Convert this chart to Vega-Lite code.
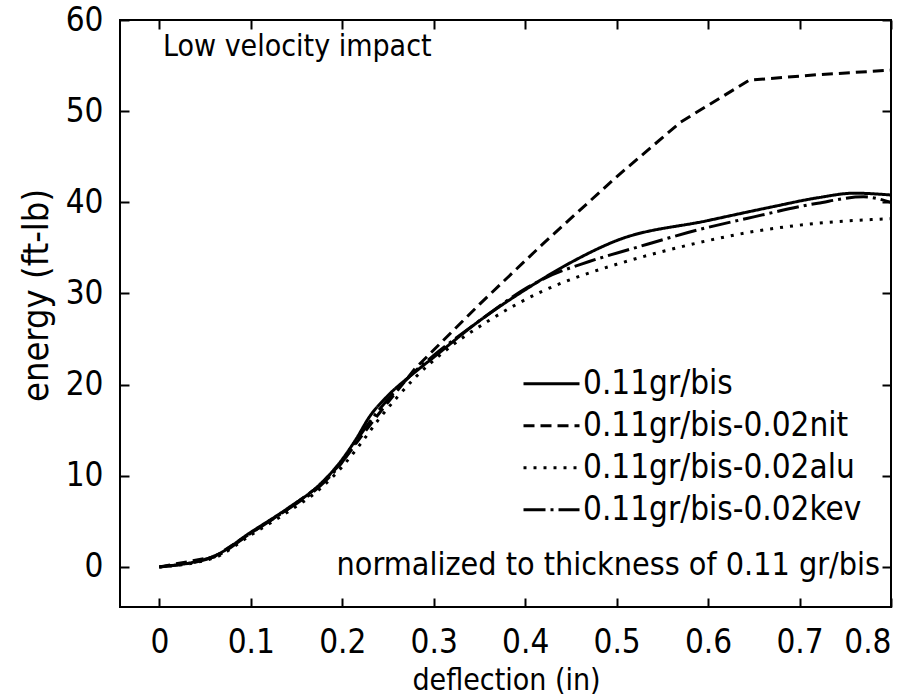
{
  "$schema": "https://vega.github.io/schema/vega-lite/v6.json",
  "autosize": {"type": "none"},
  "padding": {"left": 120, "top": 20, "right": 23, "bottom": 91},
  "width": 771,
  "height": 587,
  "background": "white",
  "config": {
    "font": "DejaVu Sans Condensed",
    "view": {"stroke": "black", "strokeWidth": 2},
    "axis": {
      "domain": false,
      "grid": false,
      "ticks": true,
      "tickSize": -9,
      "tickWidth": 2,
      "tickColor": "black",
      "labelFont": "DejaVu Sans Condensed",
      "labelFontSize": 33,
      "labelColor": "black",
      "titleFont": "DejaVu Sans Condensed",
      "titleFontSize": 30,
      "titleFontWeight": "normal",
      "titleColor": "black"
    },
    "legend": {
      "labelFont": "DejaVu Sans Condensed",
      "labelFontSize": 33,
      "labelColor": "black",
      "labelLimit": 0
    }
  },
  "data": {
    "values": [
      {"series": "0.11gr/bis", "x": 0, "y": 0},
      {"series": "0.11gr/bis", "x": 0.06, "y": 1.2},
      {"series": "0.11gr/bis", "x": 0.1, "y": 3.8},
      {"series": "0.11gr/bis", "x": 0.14, "y": 6.4},
      {"series": "0.11gr/bis", "x": 0.175, "y": 9.0},
      {"series": "0.11gr/bis", "x": 0.2, "y": 11.8},
      {"series": "0.11gr/bis", "x": 0.215, "y": 14.0},
      {"series": "0.11gr/bis", "x": 0.23, "y": 16.5},
      {"series": "0.11gr/bis", "x": 0.25, "y": 18.8},
      {"series": "0.11gr/bis", "x": 0.275, "y": 21.0},
      {"series": "0.11gr/bis", "x": 0.3, "y": 23.0},
      {"series": "0.11gr/bis", "x": 0.35, "y": 27.0},
      {"series": "0.11gr/bis", "x": 0.4, "y": 30.4},
      {"series": "0.11gr/bis", "x": 0.45, "y": 33.4},
      {"series": "0.11gr/bis", "x": 0.5, "y": 35.8},
      {"series": "0.11gr/bis", "x": 0.6, "y": 38.0},
      {"series": "0.11gr/bis", "x": 0.67, "y": 39.5},
      {"series": "0.11gr/bis", "x": 0.72, "y": 40.5},
      {"series": "0.11gr/bis", "x": 0.76, "y": 41.0},
      {"series": "0.11gr/bis", "x": 0.8, "y": 40.8},

      {"series": "0.11gr/bis-0.02nit", "x": 0, "y": 0},
      {"series": "0.11gr/bis-0.02nit", "x": 0.06, "y": 1.1},
      {"series": "0.11gr/bis-0.02nit", "x": 0.1, "y": 3.7},
      {"series": "0.11gr/bis-0.02nit", "x": 0.14, "y": 6.3},
      {"series": "0.11gr/bis-0.02nit", "x": 0.175, "y": 8.9},
      {"series": "0.11gr/bis-0.02nit", "x": 0.2, "y": 11.5},
      {"series": "0.11gr/bis-0.02nit", "x": 0.22, "y": 14.2},
      {"series": "0.11gr/bis-0.02nit", "x": 0.24, "y": 16.8},
      {"series": "0.11gr/bis-0.02nit", "x": 0.26, "y": 19.3},
      {"series": "0.11gr/bis-0.02nit", "x": 0.28, "y": 21.8},
      {"series": "0.11gr/bis-0.02nit", "x": 0.35, "y": 28.8},
      {"series": "0.11gr/bis-0.02nit", "x": 0.42, "y": 35.5},
      {"series": "0.11gr/bis-0.02nit", "x": 0.5, "y": 42.8},
      {"series": "0.11gr/bis-0.02nit", "x": 0.57, "y": 48.8},
      {"series": "0.11gr/bis-0.02nit", "x": 0.645, "y": 53.4},
      {"series": "0.11gr/bis-0.02nit", "x": 0.72, "y": 54.0},
      {"series": "0.11gr/bis-0.02nit", "x": 0.8, "y": 54.5},

      {"series": "0.11gr/bis-0.02alu", "x": 0, "y": 0},
      {"series": "0.11gr/bis-0.02alu", "x": 0.06, "y": 1.0},
      {"series": "0.11gr/bis-0.02alu", "x": 0.1, "y": 3.5},
      {"series": "0.11gr/bis-0.02alu", "x": 0.14, "y": 6.0},
      {"series": "0.11gr/bis-0.02alu", "x": 0.175, "y": 8.5},
      {"series": "0.11gr/bis-0.02alu", "x": 0.2, "y": 11.0},
      {"series": "0.11gr/bis-0.02alu", "x": 0.22, "y": 13.5},
      {"series": "0.11gr/bis-0.02alu", "x": 0.24, "y": 16.2},
      {"series": "0.11gr/bis-0.02alu", "x": 0.26, "y": 18.6},
      {"series": "0.11gr/bis-0.02alu", "x": 0.28, "y": 20.8},
      {"series": "0.11gr/bis-0.02alu", "x": 0.31, "y": 23.5},
      {"series": "0.11gr/bis-0.02alu", "x": 0.36, "y": 27.0},
      {"series": "0.11gr/bis-0.02alu", "x": 0.42, "y": 30.3},
      {"series": "0.11gr/bis-0.02alu", "x": 0.46, "y": 31.9},
      {"series": "0.11gr/bis-0.02alu", "x": 0.5, "y": 33.2},
      {"series": "0.11gr/bis-0.02alu", "x": 0.55, "y": 34.6},
      {"series": "0.11gr/bis-0.02alu", "x": 0.6, "y": 35.8},
      {"series": "0.11gr/bis-0.02alu", "x": 0.65, "y": 36.8},
      {"series": "0.11gr/bis-0.02alu", "x": 0.72, "y": 37.7},
      {"series": "0.11gr/bis-0.02alu", "x": 0.8, "y": 38.2},

      {"series": "0.11gr/bis-0.02kev", "x": 0, "y": 0},
      {"series": "0.11gr/bis-0.02kev", "x": 0.06, "y": 1.1},
      {"series": "0.11gr/bis-0.02kev", "x": 0.1, "y": 3.7},
      {"series": "0.11gr/bis-0.02kev", "x": 0.14, "y": 6.3},
      {"series": "0.11gr/bis-0.02kev", "x": 0.175, "y": 8.8},
      {"series": "0.11gr/bis-0.02kev", "x": 0.2, "y": 11.5},
      {"series": "0.11gr/bis-0.02kev", "x": 0.22, "y": 14.5},
      {"series": "0.11gr/bis-0.02kev", "x": 0.24, "y": 17.2},
      {"series": "0.11gr/bis-0.02kev", "x": 0.26, "y": 19.5},
      {"series": "0.11gr/bis-0.02kev", "x": 0.28, "y": 21.5},
      {"series": "0.11gr/bis-0.02kev", "x": 0.3, "y": 23.2},
      {"series": "0.11gr/bis-0.02kev", "x": 0.35, "y": 27.0},
      {"series": "0.11gr/bis-0.02kev", "x": 0.4, "y": 30.5},
      {"series": "0.11gr/bis-0.02kev", "x": 0.42, "y": 31.6},
      {"series": "0.11gr/bis-0.02kev", "x": 0.47, "y": 33.5},
      {"series": "0.11gr/bis-0.02kev", "x": 0.52, "y": 35.0},
      {"series": "0.11gr/bis-0.02kev", "x": 0.59, "y": 37.0},
      {"series": "0.11gr/bis-0.02kev", "x": 0.65, "y": 38.4},
      {"series": "0.11gr/bis-0.02kev", "x": 0.72, "y": 39.9},
      {"series": "0.11gr/bis-0.02kev", "x": 0.77, "y": 40.6},
      {"series": "0.11gr/bis-0.02kev", "x": 0.8, "y": 40.0}
    ]
  },
  "layer": [
    {
      "transform": [{"filter": "datum.series !== '0.11gr/bis-0.02nit'"}],
      "mark": {"type": "line", "interpolate": "monotone", "strokeWidth": 3, "color": "black", "clip": true},
      "encoding": {
        "x": {"field": "x", "type": "quantitative", "scale": {"domain": [-0.043, 0.8], "nice": false, "zero": false},
              "axis": {"orient": "bottom", "values": [0, 0.1, 0.2, 0.3, 0.4, 0.5, 0.6, 0.7, 0.8], "format": ".1~f", "labelPadding": 28, "title": "deflection (in)", "titleX": 386, "titleY": 73, "titleBaseline": "middle"}},
        "y": {"field": "y", "type": "quantitative", "scale": {"domain": [-4.4, 60], "nice": false, "zero": false},
              "axis": {"orient": "left", "values": [0, 10, 20, 30, 40, 50, 60], "format": "d", "labelPadding": 26, "title": "energy (ft-lb)", "titleFontSize": 36, "titleX": -84, "titleY": 275, "titleBaseline": "middle"}},
        "detail": {"field": "series"},
        "strokeDash": {"field": "series", "type": "nominal",
          "scale": {"domain": ["0.11gr/bis", "0.11gr/bis-0.02nit", "0.11gr/bis-0.02alu", "0.11gr/bis-0.02kev"],
                    "range": [[1, 0], [11, 6], [3, 7], [22, 5, 3, 5]]},
          "legend": {"title": null, "orient": "none", "legendX": 402, "legendY": 343, "symbolType": "stroke", "symbolSize": 3136, "symbolStrokeWidth": 3, "symbolStrokeColor": "black", "clipHeight": 41.5, "rowPadding": 0, "labelOffset": 2, "padding": 0}}
      }
    },
    {
      "transform": [{"filter": "datum.series === '0.11gr/bis-0.02nit'"}],
      "mark": {"type": "line", "interpolate": "linear", "strokeWidth": 3, "color": "black", "clip": true},
      "encoding": {
        "x": {"field": "x", "type": "quantitative", "axis": null},
        "y": {"field": "y", "type": "quantitative", "axis": null},
        "strokeDash": {"field": "series", "type": "nominal"}
      }
    },
    {
      "data": {"values": [{}]},
      "mark": {"type": "text", "align": "left", "baseline": "middle", "fontSize": 30, "font": "DejaVu Sans Condensed", "text": "Low  velocity  impact"},
      "encoding": {"x": {"datum": 0.004, "axis": null}, "y": {"datum": 57, "axis": null}}
    },
    {
      "data": {"values": [{}]},
      "mark": {"type": "text", "align": "right", "baseline": "middle", "fontSize": 32, "font": "DejaVu Sans Condensed", "text": "normalized  to  thickness  of  0.11  gr/bis"},
      "encoding": {"x": {"datum": 0.788, "axis": null}, "y": {"datum": 0.2, "axis": null}}
    },
    {
      "mark": {"type": "line", "opacity": 0},
      "encoding": {
        "x": {"field": "x", "type": "quantitative", "axis": {"orient": "top", "values": [0, 0.1, 0.2, 0.3, 0.4, 0.5, 0.6, 0.7, 0.8], "labels": false, "title": null}},
        "y": {"field": "y", "type": "quantitative", "axis": {"orient": "right", "values": [0, 10, 20, 30, 40, 50, 60], "labels": false, "title": null}},
        "detail": {"field": "series"}
      }
    }
  ],
  "resolve": {"axis": {"x": "independent", "y": "independent"}}
}
